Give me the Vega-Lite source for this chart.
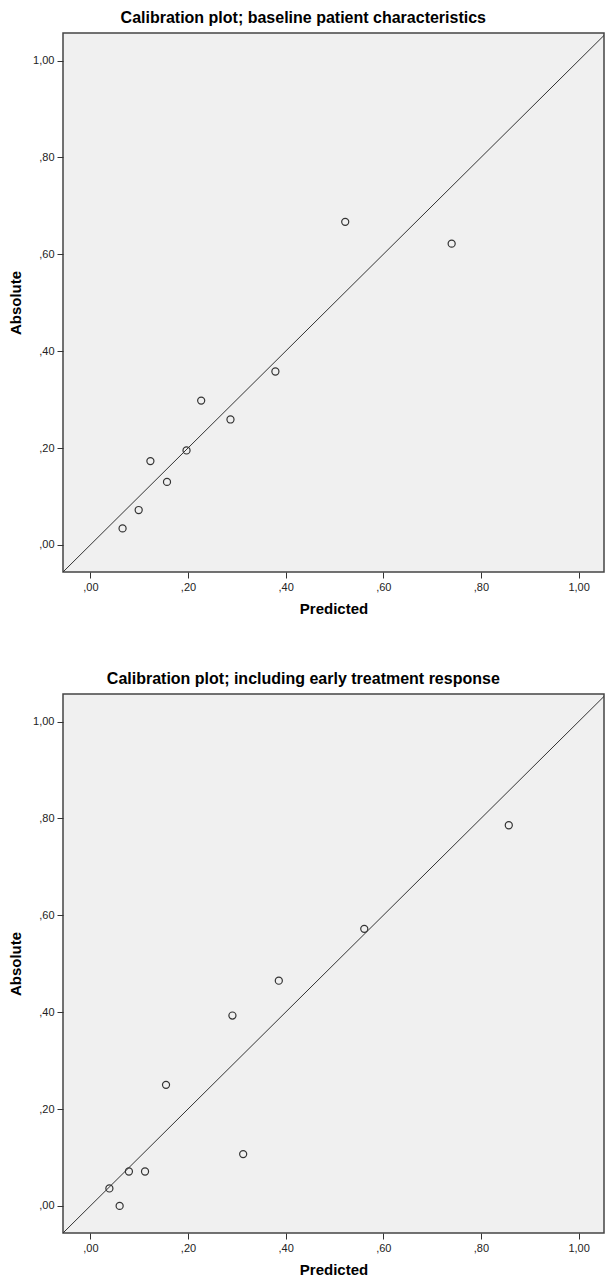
{
  "$schema": "https://vega.github.io/schema/vega-lite/v6.json",
  "background": "white",
  "padding": {"left": 7, "top": 9, "right": 1, "bottom": 5},
  "spacing": 53,
  "datasets": {
    "baseline": [
      {"predicted": 0.066, "absolute": 0.034},
      {"predicted": 0.099, "absolute": 0.072},
      {"predicted": 0.123, "absolute": 0.173},
      {"predicted": 0.157, "absolute": 0.130},
      {"predicted": 0.197, "absolute": 0.195},
      {"predicted": 0.227, "absolute": 0.298},
      {"predicted": 0.287, "absolute": 0.259},
      {"predicted": 0.379, "absolute": 0.358},
      {"predicted": 0.522, "absolute": 0.667},
      {"predicted": 0.740, "absolute": 0.622}
    ],
    "early": [
      {"predicted": 0.039, "absolute": 0.036},
      {"predicted": 0.060, "absolute": 0.000},
      {"predicted": 0.079, "absolute": 0.071},
      {"predicted": 0.112, "absolute": 0.071},
      {"predicted": 0.155, "absolute": 0.250},
      {"predicted": 0.291, "absolute": 0.393},
      {"predicted": 0.313, "absolute": 0.107},
      {"predicted": 0.386, "absolute": 0.465},
      {"predicted": 0.561, "absolute": 0.572},
      {"predicted": 0.857, "absolute": 0.786}
    ],
    "diagonal": [
      {"predicted": -0.1, "absolute": -0.1},
      {"predicted": 1.1, "absolute": 1.1}
    ]
  },
  "vconcat": [
    {
      "title": "Calibration plot; baseline patient characteristics",
      "width": 541,
      "height": 539,
      "layer": [
        {
          "data": {"name": "diagonal"},
          "mark": {"type": "line", "color": "#333333", "strokeWidth": 1, "clip": true},
          "encoding": {
            "x": {"field": "predicted", "type": "quantitative", "scale": {"domain": [-0.056, 1.052], "nice": false, "zero": false}, "axis": {"values": [0, 0.2, 0.4, 0.6, 0.8, 1]}},
            "y": {"field": "absolute", "type": "quantitative", "scale": {"domain": [-0.056, 1.057], "nice": false, "zero": false}, "axis": {"values": [0, 0.2, 0.4, 0.6, 0.8, 1]}}
          }
        },
        {
          "data": {"name": "baseline"},
          "mark": {"type": "point", "shape": "circle", "filled": false, "size": 50, "stroke": "#333333", "strokeWidth": 1.2, "opacity": 1},
          "encoding": {
            "x": {"field": "predicted", "type": "quantitative", "title": "Predicted"},
            "y": {"field": "absolute", "type": "quantitative", "title": "Absolute"}
          }
        }
      ]
    },
    {
      "title": "Calibration plot; including early treatment response",
      "width": 541,
      "height": 539,
      "layer": [
        {
          "data": {"name": "diagonal"},
          "mark": {"type": "line", "color": "#333333", "strokeWidth": 1, "clip": true},
          "encoding": {
            "x": {"field": "predicted", "type": "quantitative", "scale": {"domain": [-0.056, 1.052], "nice": false, "zero": false}, "axis": {"values": [0, 0.2, 0.4, 0.6, 0.8, 1]}},
            "y": {"field": "absolute", "type": "quantitative", "scale": {"domain": [-0.056, 1.057], "nice": false, "zero": false}, "axis": {"values": [0, 0.2, 0.4, 0.6, 0.8, 1]}}
          }
        },
        {
          "data": {"name": "early"},
          "mark": {"type": "point", "shape": "circle", "filled": false, "size": 50, "stroke": "#333333", "strokeWidth": 1.2, "opacity": 1},
          "encoding": {
            "x": {"field": "predicted", "type": "quantitative", "title": "Predicted"},
            "y": {"field": "absolute", "type": "quantitative", "title": "Absolute"}
          }
        }
      ]
    }
  ],
  "config": {
    "view": {"fill": "#f0f0f0", "stroke": "#444444", "strokeWidth": 1.5},
    "title": {"font": "Liberation Sans", "fontSize": 16, "fontWeight": "bold", "color": "#000000", "anchor": "middle", "frame": "bounds", "offset": 7, "dx": -3},
    "axis": {
      "domain": false,
      "grid": false,
      "labelExpr": "datum.value >= 1 ? '1,00' : replace(format(datum.value, '.2f'), '0.', ',')",
      "tickColor": "#333333",
      "tickSize": 6,
      "tickWidth": 1,
      "labelFont": "Liberation Sans",
      "labelFontSize": 11,
      "labelColor": "#222222",
      "labelPadding": 3,
      "titleFont": "Liberation Sans",
      "titleFontSize": 15,
      "titleFontWeight": "bold",
      "titleColor": "#000000"
    },
    "axisX": {"titlePadding": 9},
    "axisY": {"titlePadding": 9}
  }
}
